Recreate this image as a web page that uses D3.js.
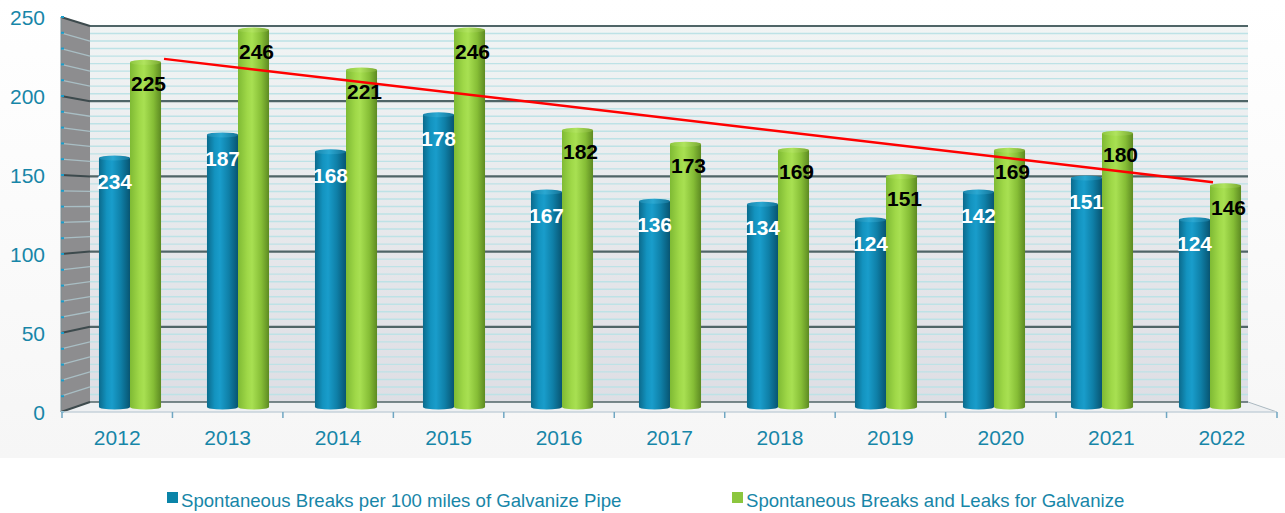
<!DOCTYPE html>
<html>
<head>
<meta charset="utf-8">
<script src="https://cdn.jsdelivr.net/npm/d3@7/dist/d3.min.js"></script>
<style>
  body { margin: 0; background: #fff; }
  text { font-family: "Liberation Sans", Arial, sans-serif; }
</style>
</head>
<body>
<script>
// chart data
const years = ["2012","2013","2014","2015","2016","2017","2018","2019","2020","2021","2022"];
const breaksPer100 = [163, 178, 167, 191, 141, 135, 133, 123, 141, 150, 123];
const breaksPer100Labels = [234, 187, 168, 178, 167, 136, 134, 124, 142, 151, 124];
const breaksLeaks = [225, 246, 220, 246, 181, 172, 168, 151, 168, 179, 145];
const breaksLeaksLabels = [225, 246, 221, 246, 182, 173, 169, 151, 169, 180, 146];
const yTicks = [0, 50, 100, 150, 200, 250];
const seriesNames = ["Spontaneous Breaks per 100 miles of Galvanize Pipe", "Spontaneous Breaks and Leaks for Galvanize"];

const width = 1285, height = 513;
const TEAL = "#1786a8";

const svg = d3.select("body").append("svg")
    .attr("width", width)
    .attr("height", height);

const defs = svg.append("defs");

function gradient(id, stops, vertical){
    let g = defs.append("linearGradient").attr("id", id);
    if(vertical){ g.attr("x1",0).attr("y1",0).attr("x2",0).attr("y2",1); }
    stops.forEach(function(s){
        g.append("stop").attr("offset", s[0]).attr("stop-color", s[1]);
    });
}
gradient("bg", [["0%","#ffffff"],["100%","#f6f6f6"]], true);
gradient("wall", [["0%","#f1f4f4"],["100%","#dedee4"]], true);
gradient("blueCyl", [["0%","#0b6a8c"],["25%","#1393bf"],["42%","#199dcb"],["70%","#0f80a8"],["100%","#085572"]]);
gradient("greenCyl", [["0%","#7fba34"],["30%","#9fd848"],["45%","#a8e052"],["75%","#86be36"],["100%","#5d8a22"]]);
gradient("blueTop", [["0%","#1a86ac"],["45%","#2aa8d2"],["100%","#147296"]]);
gradient("greenTop", [["0%","#8ec640"],["45%","#b0e45e"],["100%","#78a830"]]);

svg.append("rect").attr("width", width).attr("height", 458).attr("fill", "url(#bg)");

// scales: back wall, front edge and the depth the bars sit at
const left = 61, right = 1277, backLeft = 90, backRight = 1248;
const yBack = d3.scaleLinear().domain([0, 250]).range([402, 26]);
const yFront = d3.scaleLinear().domain([0, 250]).range([412, 17]);
const yBar = d3.scaleLinear().domain([0, 250]).range([407, 21.3]);

const xFront = d3.scaleBand().domain(years).range([left + 1, right]);
const xBar = d3.scaleBand().domain(years).range([76, 1264]);
const xSeries = d3.scaleBand().domain([0, 1]).range([0, xBar.bandwidth()])
    .paddingInner(0).paddingOuter(0.74);

// back wall
svg.append("rect")
    .attr("x", backLeft).attr("y", yBack(250))
    .attr("width", backRight - backLeft).attr("height", yBack(0) - yBack(250))
    .attr("fill", "url(#wall)");

// left side wall
svg.append("path")
    .attr("d", `M${left},${yFront(250)}L${backLeft},${yBack(250)}L${backLeft},${yBack(0)}L${left},${yFront(0)}Z`)
    .attr("fill", "#8d8d8f");

// floor
svg.append("path")
    .attr("d", `M${left},${yFront(0)}L${backLeft},${yBack(0)}L${backRight},${yBack(0)}L${right},${yFront(0)}Z`)
    .attr("fill", "#eef0f2");

const minor = d3.range(5, 250, 5).filter(v => v % 50 != 0);
svg.append("g").selectAll("line")
    .data(minor)
    .enter().append("line")
    .attr("x1", backLeft).attr("x2", backRight)
    .attr("y1", d => yBack(d)).attr("y2", d => yBack(d))
    .attr("stroke", "#bde2e6")
    .attr("stroke-width", 1.4);

// stripes on the side wall every 10
svg.append("g").selectAll("line")
    .data(d3.range(10, 250, 10).filter(v => v % 50 != 0))
    .enter().append("line")
    .attr("x1", left).attr("x2", backLeft)
    .attr("y1", d => yFront(d)).attr("y2", d => yBack(d))
    .attr("stroke", "#a9bec4")
    .attr("stroke-width", 1.3);

// major gridlines, back wall + side wall
const major = svg.append("g");
major.selectAll(".gb")
    .data(yTicks)
    .enter().append("line")
    .attr("x1", backLeft).attr("x2", backRight)
    .attr("y1", d => yBack(d)).attr("y2", d => yBack(d))
    .attr("stroke", "#4f6567")
    .attr("stroke-width", d => d == 0 ? 1.5 : 2.2);
major.selectAll(".gs")
    .data(yTicks)
    .enter().append("line")
    .attr("x1", left).attr("x2", backLeft)
    .attr("y1", d => yFront(d)).attr("y2", d => yBack(d))
    .attr("stroke", "#3d4a4d")
    .attr("stroke-width", 2);

// left axis line + small ticks
svg.append("line")
    .attr("x1", left).attr("x2", left)
    .attr("y1", yFront(250)).attr("y2", yFront(0))
    .attr("stroke", "#7d8d92").attr("stroke-width", 1);
svg.append("g").selectAll("line")
    .data(d3.range(0, 251, 10))
    .enter().append("line")
    .attr("x1", left).attr("x2", left + 3)
    .attr("y1", d => yFront(d)).attr("y2", d => yFront(d))
    .attr("stroke", "#1a9cc8").attr("stroke-width", 2);

// right floor edge and front axis
svg.append("line")
    .attr("x1", backRight).attr("y1", yBack(0)).attr("x2", right).attr("y2", yFront(0))
    .attr("stroke", "#aab8c0").attr("stroke-width", 1);
svg.append("line")
    .attr("x1", left).attr("y1", yFront(0)).attr("x2", right).attr("y2", yFront(0))
    .attr("stroke", "#c6d2da").attr("stroke-width", 1.5);
svg.append("g").selectAll("line")
    .data(years.concat(["end"]))
    .enter().append("line")
    .attr("x1", (d, i) => left + 1 + i * xFront.bandwidth())
    .attr("x2", (d, i) => left + 1 + i * xFront.bandwidth())
    .attr("y1", yFront(0)).attr("y2", yFront(0) + 6)
    .attr("stroke", "#6fa6c2").attr("stroke-width", 1.5);

// y tick labels
svg.append("g").selectAll("text")
    .data(yTicks)
    .enter().append("text")
    .attr("x", 45)
    .attr("y", d => yFront(d) + 7.5)
    .attr("text-anchor", "end")
    .attr("fill", TEAL)
    .style("font-size", "21px")
    .text(d => d);

// year labels
svg.append("g").selectAll("text")
    .data(years)
    .enter().append("text")
    .attr("x", d => xFront(d) + xFront.bandwidth() / 2)
    .attr("y", 445)
    .attr("text-anchor", "middle")
    .attr("fill", TEAL)
    .style("font-size", "21px")
    .text(d => d);

// cylinders
let bars = [];
years.forEach(function(y, i){
    bars.push({year: y, s: 0, v: breaksPer100[i], label: breaksPer100Labels[i]});
    bars.push({year: y, s: 1, v: breaksLeaks[i], label: breaksLeaksLabels[i]});
});

const bw = xSeries.bandwidth();
const ry = 2.5;
const cyl = svg.append("g").selectAll("g")
    .data(bars)
    .enter().append("g")
    .attr("transform", d => "translate(" + (xBar(d.year) + xSeries(d.s)) + ",0)");

cyl.append("ellipse")
    .attr("cx", bw / 2).attr("cy", yBar(0))
    .attr("rx", bw / 2).attr("ry", ry)
    .attr("fill", d => d.s == 0 ? "url(#blueCyl)" : "url(#greenCyl)");
cyl.append("rect")
    .attr("x", 0).attr("width", bw)
    .attr("y", d => yBar(d.v) + ry)
    .attr("height", d => yBar(0) - yBar(d.v) - ry)
    .attr("fill", d => d.s == 0 ? "url(#blueCyl)" : "url(#greenCyl)");
cyl.append("ellipse")
    .attr("cx", bw / 2).attr("cy", d => yBar(d.v) + ry)
    .attr("rx", bw / 2).attr("ry", ry)
    .attr("fill", d => d.s == 0 ? "url(#blueTop)" : "url(#greenTop)");

// trend line from first to last green bar
const n = years.length;
svg.append("line")
    .attr("x1", xBar(years[0]) + xSeries(1) + bw + 3)
    .attr("y1", yBar(breaksLeaks[0]) - 1)
    .attr("x2", xBar(years[n - 1]) + xSeries(1) + 3)
    .attr("y2", yBar(breaksLeaks[n - 1]) - 1)
    .attr("stroke", "#ff0000")
    .attr("stroke-width", 2.5);

// data labels
svg.append("g").selectAll("text")
    .data(bars)
    .enter().append("text")
    .attr("x", d => xBar(d.year) + xSeries(d.s) + bw / 2 + (d.s == 0 ? 0 : 3))
    .attr("y", d => yBar(d.v) + (d.s == 0 ? 26 : 24) + 7.5)
    .attr("text-anchor", "middle")
    .attr("fill", d => d.s == 0 ? "#ffffff" : "#000000")
    .style("font-size", "21px")
    .style("font-weight", "bold")
    .text(d => d.label);

// legend
const legendX = [167, 732];
const legend = svg.append("g").selectAll("g")
    .data(seriesNames)
    .enter().append("g")
    .attr("transform", (d, i) => "translate(" + legendX[i] + ",492)");
legend.append("rect")
    .attr("width", 11).attr("height", 11)
    .attr("fill", (d, i) => i == 0 ? "#0a84a8" : "#8cc63e");
legend.append("text")
    .attr("x", 14).attr("y", 15)
    .attr("fill", TEAL)
    .style("font-size", "18.6px")
    .text(d => d);
</script>
</body>
</html>
